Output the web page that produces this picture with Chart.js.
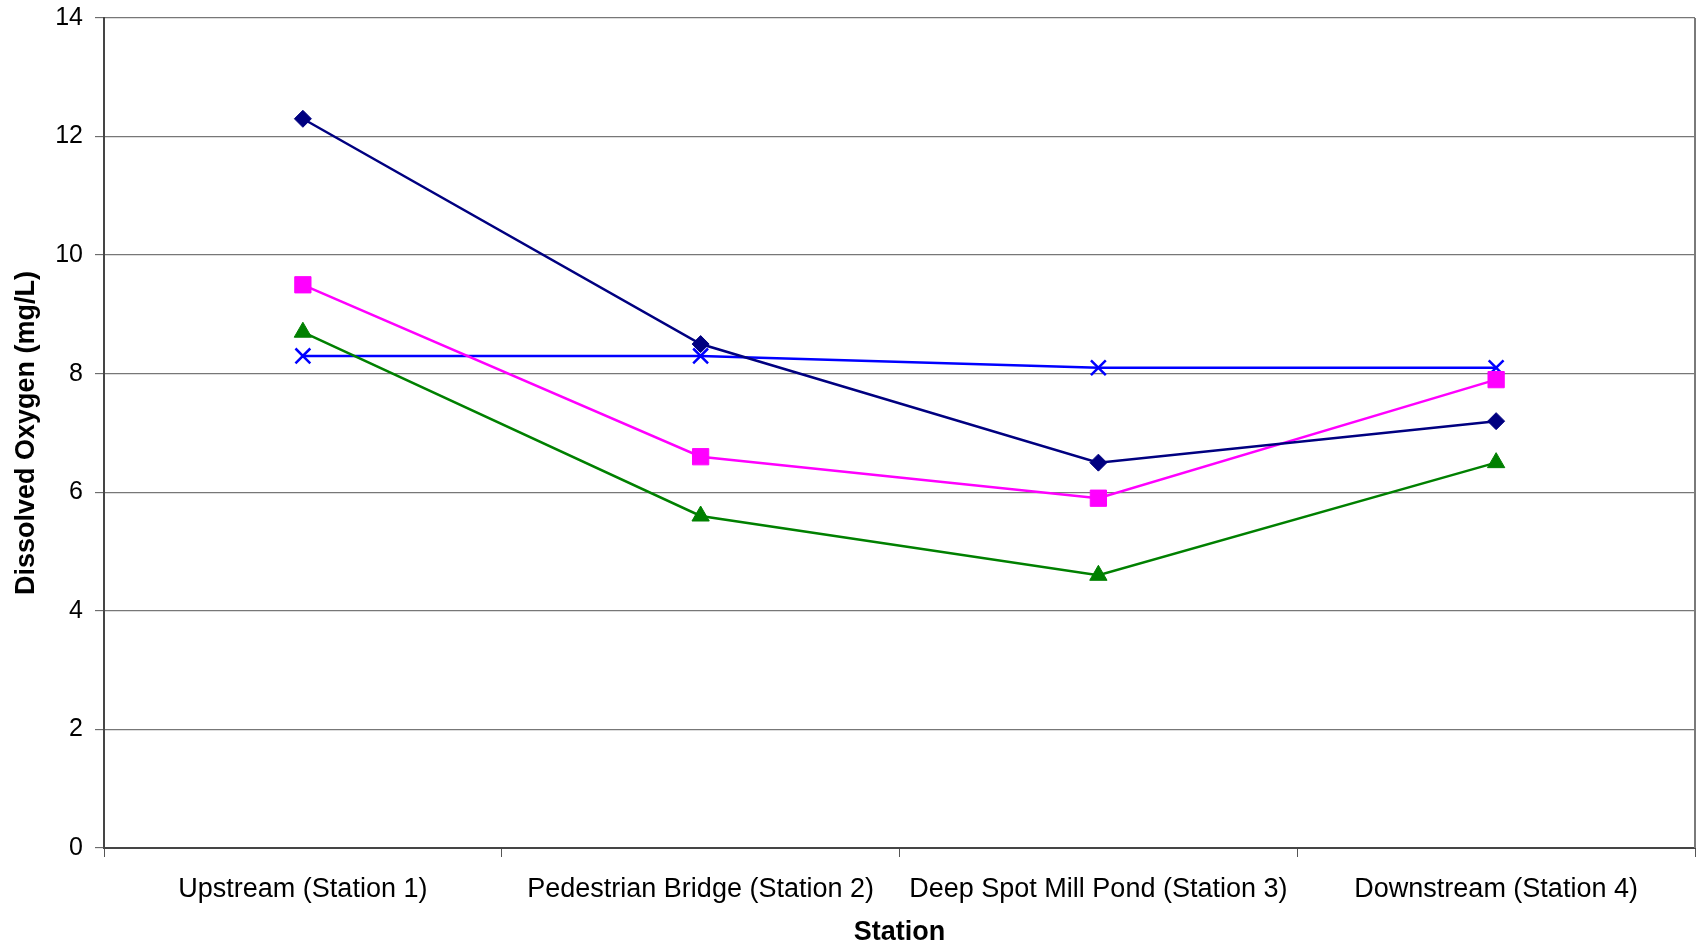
<!DOCTYPE html>
<html>
<head>
<meta charset="utf-8">
<title>Dissolved Oxygen by Station</title>
<script src="https://cdn.jsdelivr.net/npm/chart.js@4.4.1/dist/chart.umd.min.js"></script>
<style>
  html, body { margin: 0; padding: 0; background: #ffffff; overflow: hidden; }
  #wrap { width: 1697px; height: 947px; }
  canvas { display: block; }
</style>
</head>
<body>
<div id="wrap"><canvas id="chart" width="1697" height="947"></canvas></div>
<script>
// Sampling stations along the stream
const stations = [
  'Upstream (Station 1)',
  'Pedestrian Bridge (Station 2)',
  'Deep Spot Mill Pond (Station 3)',
  'Downstream (Station 4)'
];

// Dissolved oxygen readings (mg/L), one array per sampling run
const runNavy    = [12.3, 8.5, 6.5, 7.2];
const runMagenta = [9.5, 6.6, 5.9, 7.9];
const runGreen   = [8.7, 5.6, 4.6, 6.5];
const runBlue    = [8.3, 8.3, 8.1, 8.1];

// Value axis ticks
const yMin = 0;
const yMax = 14;
const yStep = 2;

const FONT = '"Liberation Sans", Arial, Helvetica, sans-serif';

// Right-hand frame line of the plot area
const frameRight = {
  id: 'frameRight',
  afterDraw(chart) {
    const { ctx, chartArea: a } = chart;
    ctx.save();
    ctx.strokeStyle = '#7a7a7a';
    ctx.lineWidth = 2;
    ctx.beginPath();
    ctx.moveTo(a.right, a.top);
    ctx.lineTo(a.right, a.bottom);
    ctx.stroke();
    ctx.restore();
  }
};

// Keep the plot area fixed: no extra room reserved for overhanging labels
function noOverhang(scale) {
  scale.paddingLeft = 0;
  scale.paddingRight = 0;
  scale.paddingTop = 0;
  scale.paddingBottom = 0;
}

function series(label, data, color, style, radius, borderWidth) {
  return {
    label,
    data,
    borderColor: color,
    backgroundColor: color,
    borderWidth: 2.5,
    tension: 0,
    fill: false,
    pointStyle: style,
    pointRadius: radius,
    pointHoverRadius: radius,
    pointBackgroundColor: color,
    pointBorderColor: color,
    pointBorderWidth: borderWidth
  };
}

new Chart(document.getElementById('chart'), {
  type: 'line',
  data: {
    labels: stations,
    datasets: [
      series('Run 1', runNavy, '#000080', 'rectRot', 8.5, 1),
      series('Run 2', runMagenta, '#ff00ff', 'rect', 11.5, 1),
      series('Run 3', runGreen, '#008000', 'triangle', 10, 1),
      series('Run 4', runBlue, '#0000ff', 'crossRot', 10.5, 2.5)
    ]
  },
  options: {
    responsive: false,
    animation: false,
    devicePixelRatio: 1,
    layout: { autoPadding: false, padding: { left: 0, right: 2, top: 18, bottom: 0 } },
    plugins: {
      legend: { display: false },
      tooltip: { enabled: false },
      title: { display: false }
    },
    scales: {
      x: {
        type: 'category',
        offset: true,
        afterFit(scale) { scale.height = 99; noOverhang(scale); },
        grid: {
          offset: true,
          drawOnChartArea: false,
          drawTicks: true,
          tickLength: 9,
          tickColor: '#555555',
          tickWidth: 1
        },
        border: { display: true, color: '#454545', width: 2 },
        ticks: {
          color: '#000000',
          padding: 16,
          maxRotation: 0,
          autoSkip: false,
          font: { family: FONT, size: 27 }
        },
        title: {
          display: true,
          text: 'Station',
          color: '#000000',
          padding: { top: 0, bottom: 0 },
          font: { family: FONT, size: 27, weight: 'bold', lineHeight: 1.05 }
        }
      },
      y: {
        min: yMin,
        max: yMax,
        afterFit(scale) { scale.width = 104; noOverhang(scale); },
        ticks: {
          stepSize: yStep,
          color: '#000000',
          padding: 12,
          font: { family: FONT, size: 25 }
        },
        grid: {
          color: '#777777',
          lineWidth: 1.3,
          drawTicks: true,
          tickLength: 9,
          tickColor: '#555555',
          tickWidth: 1
        },
        border: { display: true, color: '#454545', width: 2 },
        title: {
          display: true,
          text: 'Dissolved Oxygen (mg/L)',
          color: '#000000',
          padding: { top: 10, bottom: 0 },
          font: { family: FONT, size: 27, weight: 'bold', lineHeight: 1.2 }
        }
      }
    }
  },
  plugins: [frameRight]
});
</script>
</body>
</html>
